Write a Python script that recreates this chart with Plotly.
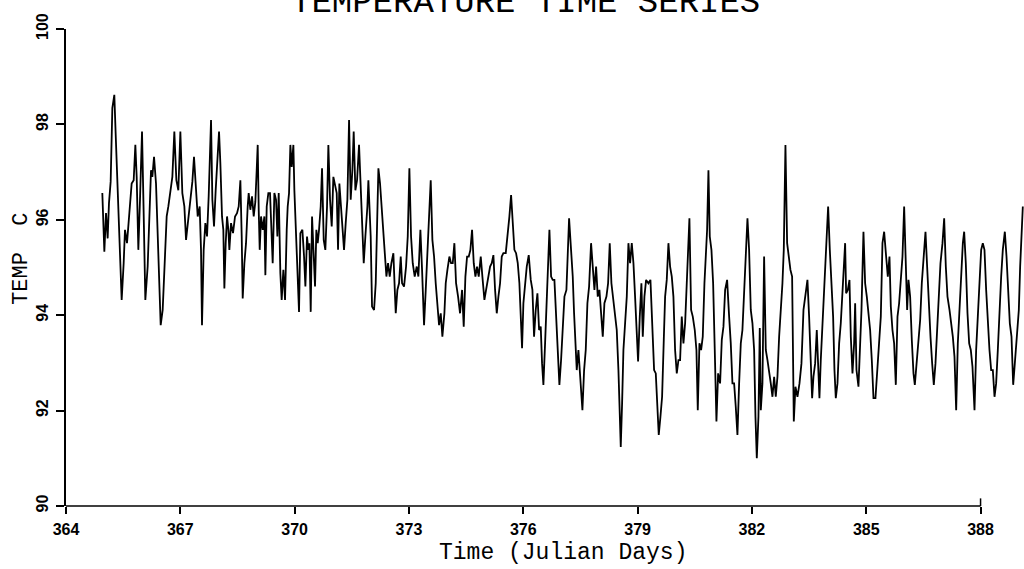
import plotly.graph_objects as go

# ---- data (Julian day, temperature) ----
time_days = [
 364.953,364.971,365.006,365.050,365.093,365.128,365.172,365.216,365.268,365.303,365.356,365.400,365.461,365.513,365.548,365.601,365.653,365.723,365.776,365.820,
 365.855,365.898,365.942,365.995,366.038,366.082,366.143,366.187,366.231,366.266,366.310,366.362,366.423,366.485,366.537,366.598,366.642,366.686,366.738,366.791,
 366.843,366.896,366.948,367.001,367.053,367.106,367.150,367.211,367.272,367.316,367.359,367.412,367.456,367.508,367.543,367.569,367.613,367.657,367.701,367.744,
 367.771,367.806,367.841,367.884,367.928,367.972,368.016,368.051,368.094,368.129,368.156,368.191,368.226,368.261,368.287,368.331,368.383,368.436,368.488,368.532,
 368.576,368.611,368.637,368.681,368.724,368.768,368.794,368.838,368.882,368.926,368.969,369.004,369.031,369.057,369.083,369.118,369.162,369.206,369.232,369.267,
 369.310,369.354,369.380,369.424,369.468,369.512,369.547,369.582,369.625,369.660,369.704,369.748,369.792,369.818,369.853,369.888,369.923,369.967,369.993,370.037,
 370.080,370.115,370.150,370.203,370.247,370.282,370.325,370.360,370.387,370.422,370.457,370.492,370.535,370.570,370.605,370.640,370.684,370.719,370.763,370.806,
 370.850,370.885,370.929,370.973,371.016,
 371.104,371.139,371.174,371.218,371.261,371.296,371.340,371.384,371.428,371.471,371.515,371.550,371.594,371.638,371.690,371.734,371.778,371.813,371.856,371.909,
 371.935,371.970,371.996,372.031,372.084,372.128,372.163,372.198,372.241,372.285,372.329,372.373,372.408,372.451,372.495,372.539,372.591,372.635,372.653,372.696,
 372.740,372.784,372.819,372.871,372.924,372.968,373.011,373.055,373.099,373.151,373.204,373.247,373.300,373.344,373.396,373.440,373.484,373.527,373.571,373.615,
 373.659,373.702,373.746,373.790,373.834,373.877,373.930,373.965,374.009,374.061,374.105,374.149,374.192,374.236,374.289,374.341,374.394,374.437,374.481,374.525,
 374.569,374.612,374.656,374.700,374.744,374.787,374.831,374.884,374.927,374.980,375.024,375.076,375.129,375.172,375.216,375.260,375.304,375.347,375.391,375.435,
 375.478,375.540,375.592,375.636,375.680,375.723,375.767,375.811,375.855,375.898,375.933,375.968,376.003,376.047,376.091,376.143,376.196,376.240,376.283,376.327,
 376.371,376.415,376.458,376.493,376.528,376.572,376.616,376.651,376.686,376.730,376.773,376.817,376.861,376.905,376.948,376.992,377.036,377.080,377.132,377.176,
 377.202,
 377.254,377.298,377.333,377.368,377.403,377.447,377.491,377.552,377.596,377.639,377.683,377.727,377.779,377.823,377.867,377.911,377.954,377.998,378.042,378.086,
 378.129,378.182,378.226,378.269,378.313,378.366,378.409,378.453,378.497,378.523,378.558,378.593,378.628,378.672,378.716,378.759,378.803,378.847,378.891,378.934,
 378.978,379.013,379.057,379.100,379.136,379.179,379.223,379.284,379.337,379.389,379.433,379.477,379.512,379.555,379.599,379.643,379.687,379.722,379.765,379.809,
 379.853,379.897,379.940,379.984,380.028,380.072,380.115,380.159,380.203,380.247,380.290,380.325,380.360,380.404,380.448,380.500,380.544,380.579,380.623,380.667,
 380.710,380.754,380.789,380.824,380.859,380.894,380.938,380.982,381.025,381.069,381.113,381.165,381.209,381.253,381.297,381.349,381.402,381.445,381.489,381.533,
 381.576,381.620,381.664,381.708,381.751,381.795,381.830,381.883,381.926,381.970,382.014,382.058,382.093,382.128,382.171,382.206,382.233,382.276,382.320,382.364,
 382.408,382.451,382.495,382.539,382.583,382.626,382.670,382.714,382.758,382.801,382.836,382.880,382.924,382.968,383.011,383.055,383.099,383.142,383.195,383.248,
 383.300,383.353,
 383.414,383.457,383.501,383.545,383.580,383.615,383.659,383.702,383.737,383.772,383.807,383.851,383.895,383.939,384.000,384.044,384.087,384.131,384.166,384.201,
 384.245,384.289,384.332,384.376,384.411,384.446,384.472,384.516,384.560,384.595,384.639,384.682,384.709,384.744,384.796,384.840,384.875,384.927,384.971,385.015,
 385.059,385.102,385.146,385.190,385.242,385.295,385.347,385.382,385.426,385.470,385.522,385.566,385.610,385.645,385.688,385.732,385.776,385.820,385.863,385.907,
 385.951,385.995,386.038,386.073,386.108,386.152,386.196,386.240,386.275,386.318,386.362,386.415,386.458,386.502,386.555,386.598,386.642,386.686,386.730,386.773,
 386.817,386.861,386.905,386.948,387.001,387.045,387.088,387.132,387.185,387.228,387.272,387.316,387.360,387.403,387.447,387.491,387.535,387.570,387.613,387.657,
 387.701,387.744,387.788,387.841,387.884,387.928,387.972,388.016,388.059,388.103,388.147,388.191,388.234,388.278,388.322,388.366,388.409,388.453,388.497,388.541,
 388.584,388.637,388.681,388.724,388.768,388.812,388.856,388.899,388.952,389.004,389.039,389.083,389.109,
]

temp_c = [
 96.56,96.10,95.33,96.14,95.61,96.35,96.80,98.34,98.62,97.81,96.62,95.37,94.32,95.09,95.79,95.51,96.07,96.76,96.83,97.57,
 96.90,95.37,96.42,97.85,96.14,94.32,95.02,96.28,97.04,96.90,97.32,96.76,95.37,93.79,94.11,95.09,96.07,96.28,96.62,96.90,
 97.85,96.83,96.62,97.85,96.56,96.28,95.58,96.07,96.56,96.80,97.32,96.56,96.07,96.28,95.37,93.79,95.37,95.93,95.65,96.49,
 97.18,98.09,96.42,95.86,96.62,97.32,97.85,97.18,96.07,95.79,94.56,95.51,96.07,95.79,95.37,95.93,95.72,96.07,96.14,96.28,
 96.83,95.65,94.35,95.09,95.51,96.28,96.56,96.21,96.49,96.07,96.38,97.04,97.57,96.21,95.37,96.07,95.79,96.07,94.84,96.28,
 96.56,96.56,95.93,95.09,96.56,96.42,95.65,96.56,94.88,94.32,94.95,94.32,95.79,96.28,96.56,97.57,97.11,97.57,96.62,95.65,
 94.60,94.07,95.72,95.79,95.23,94.60,95.65,95.37,95.51,94.07,96.07,95.51,94.60,95.79,95.51,95.79,96.28,97.08,95.58,95.37,
 96.28,97.57,96.42,95.86,96.90,
 96.56,95.37,96.76,96.28,95.86,95.37,95.93,96.42,98.09,96.42,97.04,97.85,96.62,96.83,97.57,96.62,95.86,95.09,95.65,96.28,
 96.83,96.07,95.65,94.18,94.11,94.67,95.65,97.08,96.76,96.28,95.79,95.30,94.81,95.09,94.81,95.09,95.30,94.39,94.04,94.53,
 94.67,95.23,94.67,94.60,95.02,95.65,97.08,95.65,95.09,94.81,95.02,94.81,95.79,94.95,93.79,94.53,95.30,96.07,96.83,95.58,
 95.23,94.67,94.11,93.79,94.04,93.55,94.04,94.67,94.95,95.23,95.09,95.09,95.51,94.67,94.39,94.04,94.53,93.76,94.81,95.23,
 95.23,95.37,95.79,95.09,94.81,95.02,94.81,95.23,94.81,94.32,94.53,94.74,95.02,95.09,95.26,94.53,94.04,94.39,94.67,95.23,
 95.30,95.30,95.65,96.07,96.52,95.93,95.37,95.30,95.09,94.67,93.97,93.31,94.25,94.67,95.02,95.26,94.74,94.53,93.55,94.11,
 94.46,93.69,93.76,92.99,92.54,93.41,94.46,95.09,95.79,94.81,94.74,94.74,93.97,93.27,92.54,93.06,93.62,94.39,94.53,95.37,
 96.03,
 95.37,94.81,94.04,93.48,92.85,93.27,92.64,92.01,92.85,93.27,94.25,94.60,95.51,95.09,94.53,95.02,94.39,94.53,93.97,93.55,
 94.25,94.39,94.67,95.51,94.67,94.25,93.97,93.69,92.85,92.22,91.24,92.15,93.27,93.83,94.39,95.51,95.09,95.51,95.09,94.39,
 93.55,93.03,93.97,94.67,93.55,94.39,94.74,94.67,94.74,93.76,92.85,92.78,92.22,91.49,91.87,92.29,93.48,94.39,94.74,95.51,
 95.02,94.81,94.39,93.27,92.78,93.06,93.06,93.97,93.41,93.83,94.67,95.23,96.03,94.11,93.97,93.69,93.27,92.01,93.41,93.27,
 93.55,94.67,95.37,95.79,97.04,95.65,95.37,94.67,93.27,91.77,92.78,92.57,93.48,93.76,94.53,94.74,93.97,93.41,92.57,92.57,
 92.08,91.49,92.57,93.41,93.69,94.46,95.23,96.03,95.37,94.11,93.83,93.27,91.87,91.00,91.87,93.73,92.01,92.57,95.23,93.27,
 93.06,92.85,92.57,92.29,92.71,92.29,92.71,93.55,94.11,94.67,95.37,97.57,95.51,95.23,94.95,94.81,91.77,92.50,92.29,92.57,
 92.99,94.11,
 94.53,94.74,93.97,92.71,92.26,92.71,92.99,93.69,92.85,92.26,93.06,93.76,94.39,95.23,96.28,95.37,94.74,93.97,92.85,92.26,
 92.57,93.41,93.83,94.53,95.09,95.51,94.46,94.53,94.74,93.55,92.78,93.41,94.25,92.85,92.50,93.27,94.11,95.75,94.67,94.39,
 93.97,93.69,93.06,92.26,92.26,92.92,93.34,93.97,95.51,95.75,95.23,94.81,95.23,94.18,93.69,93.41,92.54,93.97,94.25,94.81,
 95.23,96.28,95.23,94.11,94.74,94.39,93.48,92.78,92.54,92.99,93.41,93.90,94.67,95.23,95.75,95.02,94.11,93.55,92.99,92.54,
 92.99,93.69,94.39,95.09,95.51,96.03,95.02,94.39,94.11,93.83,93.55,93.13,92.01,93.41,94.11,94.67,95.51,95.75,95.09,94.04,
 93.41,93.27,92.92,92.01,93.27,93.97,94.67,95.37,95.51,95.37,94.53,93.83,93.27,92.85,92.85,92.29,92.57,93.27,94.11,94.81,
 95.37,95.75,95.23,94.53,93.83,93.55,92.54,92.99,93.55,94.11,95.02,95.65,96.28,
]

x_tick_vals = [364, 367, 370, 373, 376, 379, 382, 385, 388]
y_tick_vals = [90, 92, 94, 96, 98, 100]
y_tick_text = ["90", "92", "94", "96", "98", "100"]

title_text = "TEMPERATURE TIME SERIES"
x_title = "Time (Julian Days)"
y_title = "TEMP  C"

fig = go.Figure()
fig.add_trace(go.Scatter(
    x=time_days, y=temp_c, mode="lines",
    line=dict(color="black", width=1.8),
    hoverinfo="skip", showlegend=False,
))

mono = "Liberation Mono"
tick_font = dict(family="Liberation Sans", size=16, color="black", weight="bold")

fig.update_layout(
    width=1024, height=569,
    margin=dict(l=66, r=0, t=29, b=63),
    paper_bgcolor="white", plot_bgcolor="white",
    xaxis=dict(
        range=[364, 389.14], tickvals=x_tick_vals,
        ticks="outside", ticklen=7, tickwidth=1.5, tickcolor="black",
        showline=False, showgrid=False, zeroline=False,
        tickfont=tick_font, ticklabelstandoff=2,
    ),
    yaxis=dict(
        range=[90, 100], tickvals=y_tick_vals, ticktext=y_tick_text,
        ticks="outside", ticklen=8, tickwidth=1.5, tickcolor="black",
        showline=True, linewidth=1.5, linecolor="black",
        showgrid=False, zeroline=False,
        tickangle=-90, tickfont=tick_font, ticklabelstandoff=2,
    ),
)

# bottom axis line that stops at 388 with an upturned end
fig.add_shape(type="line", xref="x", yref="paper", x0=364, x1=388, y0=0, y1=0,
              line=dict(color="black", width=1.5))
fig.add_shape(type="line", xref="x", yref="paper", x0=388, x1=388, y0=0, y1=0.016,
              line=dict(color="black", width=1.5))

fig.add_annotation(text=title_text, xref="paper", yref="paper", x=0.48, y=1,
                   xanchor="center", yanchor="bottom", yshift=5, showarrow=False,
                   font=dict(family=mono, size=34, color="black"))
fig.add_annotation(text=x_title, xref="paper", yref="paper", x=0.519, y=-0.0985,
                   xanchor="center", yanchor="middle", showarrow=False,
                   font=dict(family=mono, size=23, color="black"))
fig.add_annotation(text=y_title, xref="paper", yref="paper", x=-0.046, y=0.518,
                   xanchor="center", yanchor="middle", textangle=-90, showarrow=False,
                   font=dict(family=mono, size=22, color="black"))

fig.write_html("out.html", config={"displayModeBar": False},
               post_script="document.body.style.margin='0px';document.body.style.padding='0px';")
